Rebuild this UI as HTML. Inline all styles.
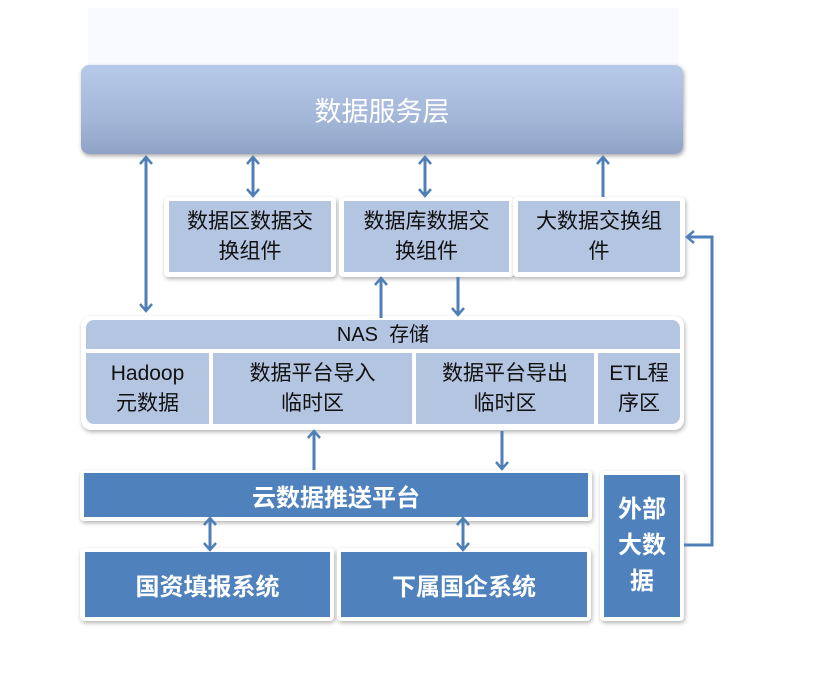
<!DOCTYPE html>
<html><head><meta charset="utf-8"><style>
body{margin:0;width:815px;height:691px;background:#fff;position:relative;overflow:hidden;font-family:"Liberation Sans","Noto Sans CJK SC",sans-serif}
.a{position:absolute;box-sizing:border-box;display:flex;align-items:center;justify-content:center;text-align:center}
.fr{position:absolute;background:#fff;box-shadow:1px 2px 4px rgba(0,0,0,.3);border-radius:4px}
.lb{background:#b4c5e2;color:#111;font-size:21px;line-height:30px}
.db{background:#4f81bd;color:#fff;font-weight:bold;font-size:24px}
</style></head><body>
<div class="a" style="left:88px;top:8px;width:590px;height:57px;background:#f8fafd"></div>
<div class="a" style="left:81px;top:65px;width:602px;height:89px;border-radius:8px;background:linear-gradient(#b7c9e8,#a4b7d9 60%,#8ea3c6);box-shadow:1px 2px 4px rgba(0,0,0,.35);color:#fff;font-size:27px">数据服务层</div>

<div class="fr" style="left:164px;top:197px;width:172px;height:80px"></div>
<div class="a lb" style="left:169px;top:201px;width:162px;height:71px">数据区数据交<br>换组件</div>
<div class="fr" style="left:339px;top:197px;width:175px;height:80px"></div>
<div class="a lb" style="left:344px;top:201px;width:165px;height:71px">数据库数据交<br>换组件</div>
<div class="fr" style="left:513px;top:197px;width:172px;height:80px"></div>
<div class="a lb" style="left:518px;top:201px;width:162px;height:71px">大数据交换组<br>件</div>

<div class="fr" style="left:81px;top:316px;width:603px;height:114px;border-radius:10px"></div>
<div class="a lb" style="left:86px;top:320px;width:594px;height:29px;border-radius:8px 8px 0 0;font-size:20px">NAS&nbsp; 存储</div>
<div class="a lb" style="left:86px;top:353px;width:123px;height:71px;border-radius:0 0 0 8px">Hadoop<br>元数据</div>
<div class="a lb" style="left:213px;top:353px;width:199px;height:71px">数据平台导入<br>临时区</div>
<div class="a lb" style="left:416px;top:353px;width:178px;height:71px">数据平台导出<br>临时区</div>
<div class="a lb" style="left:598px;top:353px;width:82px;height:71px;border-radius:0 0 8px 0">ETL程<br>序区</div>

<div class="fr" style="left:80px;top:470px;width:512px;height:51px"></div>
<div class="a db" style="left:84px;top:473px;width:504px;height:44px">云数据推送平台</div>
<div class="fr" style="left:80px;top:548px;width:254px;height:73px"></div>
<div class="a db" style="left:85px;top:552px;width:245px;height:65px">国资填报系统</div>
<div class="fr" style="left:337px;top:548px;width:254px;height:73px"></div>
<div class="a db" style="left:341px;top:552px;width:246px;height:65px">下属国企系统</div>
<div class="fr" style="left:600px;top:471px;width:84px;height:150px"></div>
<div class="a db" style="left:604px;top:475px;width:76px;height:142px;line-height:36px">外部<br>大数<br>据</div>

<svg width="815" height="691" style="position:absolute;left:0;top:0" fill="none" stroke="#4f7fb8" stroke-width="3">
<defs><marker id="m" markerWidth="12" markerHeight="14" refX="8" refY="7" orient="auto-start-reverse" markerUnits="userSpaceOnUse"><path d="M1,1 L8,7 L1,13" stroke="#4f7fb8" stroke-width="2.5" fill="none"/></marker></defs>
<line x1="146" y1="157" x2="146" y2="311" marker-start="url(#m)" marker-end="url(#m)"/>
<line x1="253" y1="157" x2="253" y2="196" marker-start="url(#m)" marker-end="url(#m)"/>
<line x1="425" y1="157" x2="425" y2="196" marker-start="url(#m)" marker-end="url(#m)"/>
<line x1="603" y1="197" x2="603" y2="157" marker-end="url(#m)"/>
<line x1="381" y1="318" x2="381" y2="278" marker-end="url(#m)"/>
<line x1="458" y1="277" x2="458" y2="315" marker-end="url(#m)"/>
<line x1="314" y1="470" x2="314" y2="431" marker-end="url(#m)"/>
<line x1="502" y1="431" x2="502" y2="469" marker-end="url(#m)"/>
<line x1="210" y1="518" x2="210" y2="550" marker-start="url(#m)" marker-end="url(#m)"/>
<line x1="463" y1="518" x2="463" y2="550" marker-start="url(#m)" marker-end="url(#m)"/>
<polyline points="684,545 712,545 712,237 687,237" marker-end="url(#m)"/>
</svg>
</body></html>
